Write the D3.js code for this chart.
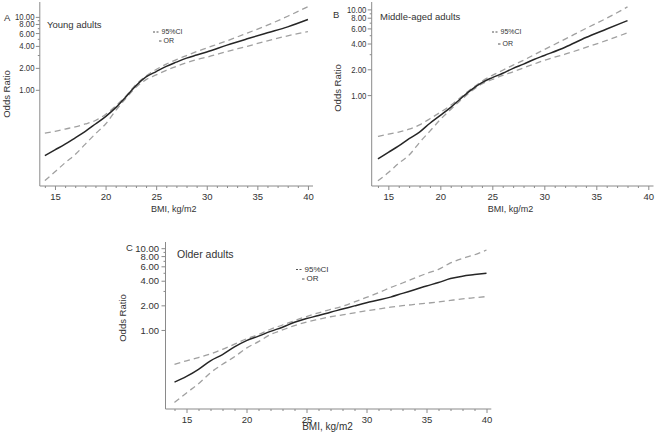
<!DOCTYPE html>
<html>
<head>
<meta charset="utf-8">
<script src="https://cdn.jsdelivr.net/npm/d3@7"></script>
<style>
  html, body { margin: 0; padding: 0; background: #fff; }
  svg { display: block; font-family: "Liberation Sans", Arial, sans-serif; }
</style>
</head>
<body>
<svg id="chart" width="656" height="433"></svg>
<script>
// ---------------- DATA ----------------
const panelLetters = ["A", "B", "C"];
const panelTitles = ["Young adults", "Middle-aged adults", "Older adults"];
const yAxisTitle = "Odds Ratio";
const xAxisTitle = "BMI, kg/m2";
const legendLabels = ["95%CI", "OR"];
const yTickValues = [1, 2, 4, 6, 8, 10];
const yMinorTickValues = [3, 5, 7, 9];
const xTickValues = [15, 20, 25, 30, 35, 40];
const xMinorTickValues = d3.range(14, 41);

// Panel A: Young adults
const bmiA = [14, 15, 16, 17, 18, 19, 20, 21, 22, 23, 24, 25, 26, 27, 28, 29, 30, 32, 34, 36, 38, 40];
const orA  = [0.125, 0.15, 0.18, 0.22, 0.27, 0.34, 0.43, 0.57, 0.80, 1.14, 1.50, 1.78, 2.10, 2.40, 2.72, 3.00, 3.30, 4.10, 5.00, 6.05, 7.30, 9.20];
const upA  = [0.255, 0.27, 0.29, 0.31, 0.34, 0.38, 0.46, 0.60, 0.82, 1.18, 1.55, 1.90, 2.25, 2.60, 2.95, 3.35, 3.75, 4.70, 6.00, 7.70, 10.2, 13.8];
const loA  = [0.057, 0.075, 0.10, 0.13, 0.18, 0.25, 0.34, 0.52, 0.76, 1.08, 1.38, 1.60, 1.85, 2.10, 2.35, 2.60, 2.80, 3.35, 3.95, 4.70, 5.50, 6.30];

// Panel B: Middle-aged adults
const bmiB = [14, 15, 16, 17, 18, 19, 20, 21, 22, 23, 24, 25, 26, 27, 28, 29, 30, 32, 34, 36, 38];
const orB  = [0.18, 0.215, 0.255, 0.31, 0.37, 0.47, 0.58, 0.72, 0.92, 1.16, 1.40, 1.60, 1.80, 2.05, 2.30, 2.60, 2.90, 3.62, 4.70, 5.90, 7.40];
const upB  = [0.33, 0.35, 0.37, 0.40, 0.45, 0.53, 0.63, 0.76, 0.95, 1.19, 1.45, 1.70, 1.95, 2.24, 2.55, 2.95, 3.40, 4.50, 6.00, 7.90, 10.7];
const loB  = [0.10, 0.125, 0.16, 0.20, 0.28, 0.38, 0.52, 0.68, 0.88, 1.12, 1.35, 1.52, 1.70, 1.87, 2.08, 2.30, 2.55, 3.00, 3.60, 4.35, 5.33];

// Panel C: Older adults
const bmiC = [14, 15, 16, 17, 18, 19, 20, 21, 22, 23, 24, 25, 26, 27, 28, 29, 30, 31, 32, 33, 34, 35, 36, 37, 38, 39, 40];
const orC  = [0.23, 0.27, 0.33, 0.42, 0.50, 0.62, 0.74, 0.84, 0.96, 1.08, 1.24, 1.38, 1.50, 1.65, 1.80, 1.97, 2.15, 2.32, 2.52, 2.80, 3.10, 3.45, 3.80, 4.25, 4.55, 4.75, 4.95];
const upC  = [0.38, 0.42, 0.46, 0.51, 0.58, 0.67, 0.78, 0.88, 1.02, 1.15, 1.30, 1.46, 1.62, 1.78, 1.95, 2.20, 2.50, 2.85, 3.30, 3.75, 4.30, 4.90, 5.50, 6.60, 7.50, 8.30, 9.50];
const loC  = [0.13, 0.17, 0.22, 0.30, 0.38, 0.47, 0.60, 0.72, 0.88, 1.00, 1.13, 1.25, 1.35, 1.45, 1.53, 1.62, 1.72, 1.80, 1.90, 1.98, 2.05, 2.12, 2.20, 2.30, 2.40, 2.48, 2.56];

// ---------------- LAYOUT ----------------
const panels = [
  { bmi: bmiA, or: orA, up: upA, lo: loA,
    xDom: [13.5, 40.5], xRange: [39.8, 313], yDom: [0.048, 16], yRange: [186, 2],
    yLabScale: 0.82, tickFont: 9.5, titleFont: 9.5, letterPos: [4, 20.5], titlePos: [47, 27.5],
    legX: 153, legY: [34, 43], legFont: 7, yTitlePos: [9.5, 94], xTitleY: 211.5, xTitleFont: 9 },
  { bmi: bmiB, or: orB, up: upB, lo: loB,
    xDom: [13.4, 40.5], xRange: [371.7, 653.5], yDom: [0.087, 12.2], yRange: [186, 2],
    yLabScale: 0.82, tickFont: 9.5, titleFont: 9.5, letterPos: [333, 17.5], titlePos: [380, 20],
    legX: 492, legY: [34, 46], legFont: 7, yTitlePos: [340.5, 88], xTitleY: 211.5, xTitleFont: 9 },
  { bmi: bmiC, or: orC, up: upC, lo: loC,
    xDom: [13.25, 40.4], xRange: [165.5, 491.3], yDom: [0.108, 11.9], yRange: [409, 242],
    yLabScale: 1, tickFont: 9.5, titleFont: 10.5, letterPos: [126, 251], titlePos: [177, 257.5],
    legX: 296, legY: [271.5, 281], legFont: 8, yTitlePos: [126, 318], xTitleY: 430, xTitleFont: 10 }
];

const svg = d3.select("#chart");
const axisColor = "#8a8a8a";
const textColor = "#333";

panels.forEach((p, i) => {
  const g = svg.append("g");
  const x = d3.scaleLinear().domain(p.xDom).range(p.xRange);
  const y = d3.scaleLog().domain(p.yDom).range(p.yRange);
  const x0 = p.xRange[0], yb = p.yRange[0];

  // y axis
  const yAx = g.append("g").attr("transform", `translate(${x0},0)`)
    .call(d3.axisLeft(y).tickValues(yTickValues).tickFormat(d3.format(".2f")).tickSize(4).tickPadding(2.5));
  yAx.select(".domain").attr("stroke", axisColor).attr("d", `M0,${p.yRange[0]}V${p.yRange[1]}`);
  yAx.selectAll(".tick line").attr("stroke", axisColor);
  yAx.selectAll(".tick text").attr("fill", textColor).attr("font-size", p.tickFont)
    .attr("font-family", "Liberation Sans, Arial, sans-serif")
    .attr("transform", `scale(${p.yLabScale},1)`);
  const yMin = g.append("g").attr("transform", `translate(${x0},0)`)
    .call(d3.axisLeft(y).tickValues(yMinorTickValues).tickFormat("").tickSize(2));
  yMin.select(".domain").remove();
  yMin.selectAll(".tick line").attr("stroke", axisColor);

  // x axis
  const xAx = g.append("g").attr("transform", `translate(0,${yb})`)
    .call(d3.axisBottom(x).tickValues(xTickValues).tickFormat(d3.format("d")).tickSize(4).tickPadding(3));
  xAx.select(".domain").attr("stroke", axisColor).attr("d", `M${p.xRange[0]},0H${p.xRange[1]}`);
  xAx.selectAll(".tick line").attr("stroke", axisColor);
  xAx.selectAll(".tick text").attr("fill", textColor).attr("font-size", p.tickFont)
    .attr("font-family", "Liberation Sans, Arial, sans-serif");
  const xMin = g.append("g").attr("transform", `translate(0,${yb})`)
    .call(d3.axisBottom(x).tickValues(xMinorTickValues.filter(v => !xTickValues.includes(v))).tickFormat("").tickSize(2));
  xMin.select(".domain").remove();
  xMin.selectAll(".tick line").attr("stroke", axisColor);

  // axis titles
  g.append("text").attr("transform", `translate(${p.yTitlePos[0]},${p.yTitlePos[1]}) rotate(-90)`)
    .attr("text-anchor", "middle").attr("font-size", 9.5).attr("fill", textColor).text(yAxisTitle);
  g.append("text").attr("x", (x(25) + x(30)) / 2 - 0.15 * (x(30) - x(25))).attr("y", p.xTitleY)
    .attr("text-anchor", "middle").attr("font-size", p.xTitleFont).attr("fill", textColor).text(xAxisTitle);

  // panel letter + title
  g.append("text").attr("x", p.letterPos[0]).attr("y", p.letterPos[1])
    .attr("font-size", 9.5).attr("fill", textColor).text(panelLetters[i]);
  g.append("text").attr("x", p.titlePos[0]).attr("y", p.titlePos[1])
    .attr("font-size", p.titleFont).attr("fill", textColor).text(panelTitles[i]);

  // lines
  const pts = (vals) => p.bmi.map((b, k) => [b, vals[k]]);
  const line = d3.line().x(d => x(d[0])).y(d => y(d[1])).curve(d3.curveMonotoneX);
  [p.up, p.lo].forEach(vals => {
    g.append("path").attr("d", line(pts(vals))).attr("fill", "none")
      .attr("stroke", "#a0a0a0").attr("stroke-width", 1.3).attr("stroke-dasharray", "6,4");
  });
  g.append("path").attr("d", line(pts(p.or))).attr("fill", "none")
    .attr("stroke", "#262626").attr("stroke-width", 1.5);

  // legend
  const lg = g.append("g");
  lg.append("line").attr("x1", p.legX).attr("x2", p.legX + 7).attr("y1", p.legY[0] - 2).attr("y2", p.legY[0] - 2)
    .attr("stroke", "#555").attr("stroke-width", 1).attr("stroke-dasharray", "2,1.5");
  lg.append("text").attr("x", p.legX + 8.5).attr("y", p.legY[0])
    .attr("font-size", p.legFont).attr("fill", textColor).text(legendLabels[0]);
  lg.append("line").attr("x1", p.legX + 6).attr("x2", p.legX + 8.5).attr("y1", p.legY[1] - 2).attr("y2", p.legY[1] - 2)
    .attr("stroke", "#555").attr("stroke-width", 1);
  lg.append("text").attr("x", p.legX + 10.5).attr("y", p.legY[1])
    .attr("font-size", p.legFont).attr("fill", textColor).text(legendLabels[1]);
});
</script>
</body>
</html>
